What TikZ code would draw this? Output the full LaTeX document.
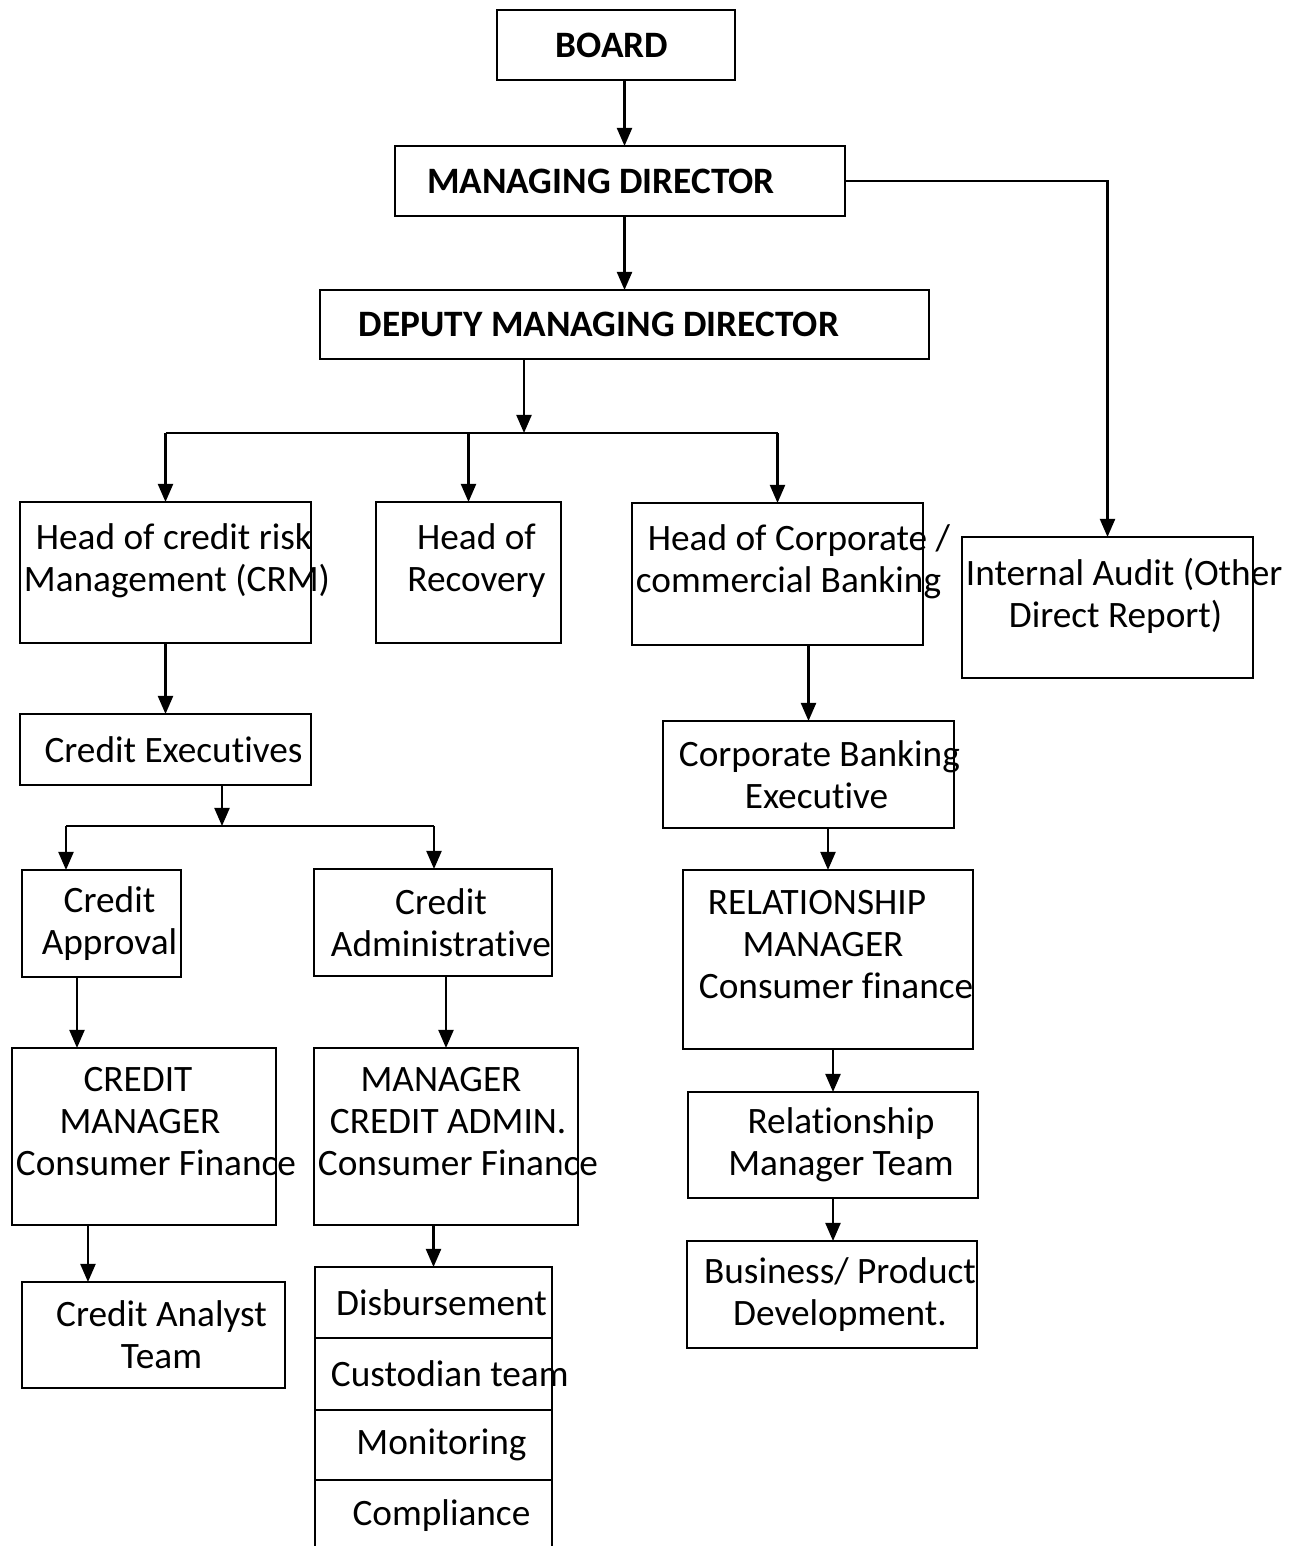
\documentclass[tikz,border=0pt]{standalone}
\usepackage{fontspec}
\setmainfont{Carlito}[Ligatures=NoCommon]
\usetikzlibrary{arrows.meta,positioning}
\hyphenpenalty=10000
\newcommand{\bottomgap}{\\[-0.12cm]\mbox{}}
\newcommand{\pull}{\hspace*{-0.12cm}}
\newcommand{\pad}[1]{\rule{#1}{0pt}}

\begin{document}
\begin{tikzpicture}[x=0.01cm,y=-0.01cm,
  box/.style={draw,line width=0.6pt,inner sep=0pt,outer sep=0pt,align=flush center,
    font=\fontsize{10.6}{11.95}\selectfont,
    execute at begin node={\leftskip=0.16cm plus 1fil\spaceskip=\fontdimen2\font}},
  hd/.style={draw,line width=0.6pt,inner sep=0pt,outer sep=0pt,font=\fontsize{10.6}{11.95}\selectfont\bfseries},
  arr/.style={line width=0.6pt,-{Triangle[length=0.18cm,width=0.15cm]}},
  bus/.style={line width=0.6pt}]
\useasboundingbox (0,0) rectangle (1296,1546);
\node [hd,minimum width=2.38cm,minimum height=0.7cm] (board) at (616,45) {BOARD\pad{0.08cm}};
\node [hd,minimum width=4.5cm,minimum height=0.7cm] (md) at (620,181) {MANAGING DIRECTOR\pad{0.38cm}};
\node [hd,minimum width=6.09cm,minimum height=0.69cm] (dmd) at (624.5,324.5) {DEPUTY MANAGING DIRECTOR\pad{0.51cm}};
\node [box,text width=2.91cm,minimum height=1.41cm] (crm) at (165.5,572.5) {Head~of~credit~risk\\\pull Management~(CRM)\bottomgap};
\node [box,text width=1.85cm,minimum height=1.41cm] (rec) at (468.5,572.5) {Head of\\Recovery\bottomgap};
\node [box,text width=2.91cm,minimum height=1.42cm] (corp) at (777.5,574) {Head~of~Corporate~/\\\pull commercial~Banking\bottomgap};
\node [box,text width=2.91cm,minimum height=1.41cm] (ia) at (1107.5,607.5) {\pull Internal~Audit~(Other\\Direct~Report)\bottomgap};
\node [box,text width=2.91cm,minimum height=0.71cm] (ce) at (165.5,749.5) {Credit~Executives};
\node [box,text width=1.59cm,minimum height=1.07cm] (cap) at (101.5,923.5) {Credit\\Approval};
\node [box,text width=2.38cm,minimum height=1.07cm] (cad) at (433,922.5) {Credit\\Administrative};
\node [box,text width=2.64cm,minimum height=1.77cm] (cm) at (144,1136.5) {CREDIT\pad{0.28cm}\\MANAGER\pad{0.24cm}\\\pull Consumer~Finance\bottomgap};
\node [box,text width=2.64cm,minimum height=1.77cm] (mca) at (446,1136.5) {MANAGER\pad{0.26cm}\\CREDIT~ADMIN.\pad{0.3cm}\\\pull Consumer~Finance\bottomgap};
\node [box,text width=2.63cm,minimum height=1.06cm] (cat) at (153.5,1335) {Credit~Analyst\\Team};
\node [box,text width=2.37cm,minimum height=0.71cm] (dis) at (433.5,1302.5) {Disbursement};
\node [box,text width=2.37cm,minimum height=0.72cm,below=0pt of dis] (cus) {Custodian~team};
\node [box,text width=2.37cm,minimum height=0.7cm,below=0pt of cus] (mon) {Monitoring};
\node [box,text width=2.37cm,minimum height=0.71cm,below=0pt of mon] (com) {Compliance};
\node [box,text width=2.91cm,minimum height=1.07cm] (cbe) at (808.5,774.5) {Corporate~Banking\\Executive};
\node [box,text width=2.9cm,minimum height=1.79cm] (rm) at (828,959.5) {RELATIONSHIP\pad{0.38cm}\\MANAGER\pad{0.26cm}\\Consumer~finance\bottomgap};
\node [box,text width=2.9cm,minimum height=1.06cm] (rmt) at (833,1145) {Relationship\\Manager~Team};
\node [box,text width=2.9cm,minimum height=1.07cm] (bpd) at (832,1294.5) {Business/~Product\\Development.};
\coordinate (j1) at (524,433);
\coordinate (b2l) at (66,826);
\coordinate (b2r) at (434,826);
\coordinate (j2) at (222,826);

\draw [arr] (board.south -| dmd.north) -- (md.north -| dmd.north);
\draw [arr] (md.south -| dmd.north) -- (dmd.north);
\draw [arr] (md.east) -| (ia.north);
\draw [arr] (dmd.south -| j1) -- (j1);
\draw [bus] (crm.north |- j1) -- (corp.north |- j1);
\foreach \n in {crm,rec,corp}
  \draw [arr] (\n.north |- j1) -- (\n.north);
\draw [arr] (crm.south) -- (ce.north);
\draw [arr] (ce.south -| j2) -- (j2);
\draw [bus] (b2l) -- (b2r);
\draw [arr] (b2l) -- (b2l |- cap.north);
\draw [arr] (b2r) -- (b2r |- cad.north);
\draw [arr] ([xshift=-0.245cm]cap.south) -- ([xshift=-0.245cm]cap.south |- cm.north);
\draw [arr] (cad.south -| mca.north) -- (mca.north);
\draw [arr] ([xshift=-0.56cm]cm.south) -- ([xshift=-0.56cm]cm.south |- cat.north);
\draw [arr] (mca.south -| dis.north) -- (dis.north);
\draw [arr] (corp.south -| cbe.north) -- (cbe.north);
\draw [arr] (cbe.south -| rm.north) -- (rm.north);
\draw [arr] (rm.south -| rmt.north) -- (rmt.north);
\draw [arr] (rmt.south) -- (rmt.south |- bpd.north);
\end{tikzpicture}
\end{document}
